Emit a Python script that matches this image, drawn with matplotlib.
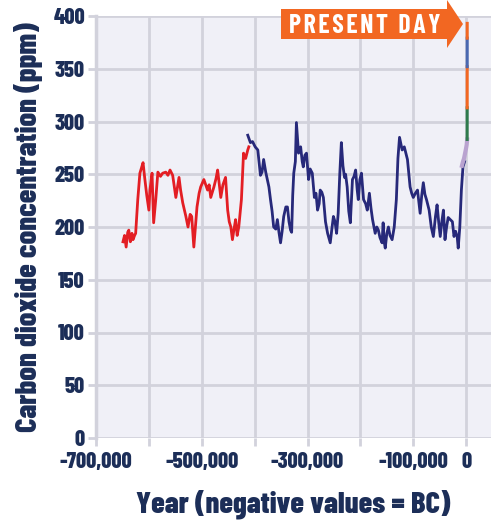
import numpy as np
import matplotlib
matplotlib.use("Agg")
import matplotlib.pyplot as plt
from matplotlib.patches import Polygon

# EPICA Dome C (red), years in thousands (negative = BC), CO2 in ppm
dome_kyr = [-649, -646, -643, -640, -638, -635, -632, -630, -627, -625, -621, -617, -614,
            -611, -608, -604, -600, -598, -594, -591, -587, -583, -578, -574, -568,
            -564, -560, -555, -549, -543, -540, -536, -530, -526, -522, -519, -515,
            -509, -505, -502, -496, -489, -486, -483, -477, -473, -470, -464, -460,
            -455, -451, -448, -445, -442, -439, -436, -433, -430, -425, -421, -417,
            -413, -411]
dome_ppm = [186, 192, 181, 195, 197, 186, 194, 188, 192, 194, 226, 251, 256,
            261, 247, 230, 216, 235, 251, 204, 226, 252, 248, 251, 252,
            249, 254, 249, 228, 247, 235, 223, 210, 200, 212, 210, 181,
            219, 232, 238, 245, 235, 240, 228, 238, 246, 254, 228, 240,
            247, 216, 205, 200, 188, 198, 207, 192, 200, 226, 270, 265,
            273, 276]

# Vostok (dark blue)
vostok_kyr = [-413, -408, -404, -399, -394, -389, -386, -383, -379, -376, -373, -370,
              -367, -364, -360, -357, -354, -351, -348, -345, -341, -338, -335, -332,
              -330, -328, -326, -323, -321, -319, -317, -313, -310, -308, -305, -302,
              -298, -295, -291, -287, -284, -281, -278, -276, -273, -270, -266, -262,
              -257, -254, -251, -248, -245, -242, -239, -236, -233, -230, -228, -225,
              -222, -219, -215, -212, -209, -206, -204, -201, -198, -194, -190, -187,
              -183, -180, -177, -172, -169, -166, -163, -159, -157, -155, -153, -150,
              -147, -144, -140, -136, -132, -129, -126, -123, -121, -117, -114, -111,
              -106, -103, -100, -96, -92, -89, -87, -84, -81, -78, -75, -70, -66, -62,
              -58, -55, -52, -49, -46, -43, -40, -37, -34, -30, -26, -23, -20, -17,
              -15, -12, -9, -6, -3]
vostok_ppm = [287, 280, 281, 276, 273, 249, 252, 264, 252, 245, 238, 226,
              215, 200, 198, 207, 195, 185, 196, 210, 219, 219, 205, 197,
              195, 230, 251, 262, 299, 285, 270, 276, 262, 257, 268, 270,
              245, 255, 251, 228, 232, 216, 222, 235, 233, 228, 205, 194,
              185, 198, 210, 205, 194, 213, 250, 280, 258, 247, 250, 238,
              215, 204, 245, 248, 254, 235, 226, 245, 251, 226, 222, 216,
              232, 218, 207, 194, 200, 197, 190, 185, 204, 186, 180, 194,
              200, 192, 188, 200, 226, 265, 285, 278, 273, 276, 270, 264,
              238, 232, 228, 232, 235, 222, 213, 230, 242, 231, 226, 216, 200, 191,
              210, 221, 205, 191, 205, 216, 188, 200, 209, 207, 205, 191, 196, 191,
              180, 200, 235, 257, 262]

# Law Dome / Holocene (lavender)
law_kyr = [-8, -6, -4, -2, 0, 1, 1.9]
law_ppm = [258, 262, 265, 270, 275, 278, 283]

# Modern records at the right edge
siple_yr = [1900, 1958]
siple_ppm = [283, 313]
mlo1_yr = [1958, 1990]
mlo1_ppm = [313, 352]
mlo2_yr = [1990, 2005]
mlo2_ppm = [352, 379]
mlo3_yr = [2005, 2013]
mlo3_ppm = [379, 393]

x_ticks = np.arange(-700000, 1, 100000)
x_labels = ["-700,000", "", "-500,000", "", "-300,000", "", "-100,000", "0"]
y_ticks = np.arange(0, 401, 50)

navy = "#1c2e58"
grid_c = "#d2d2dc"
fam = ["Barlow Condensed", "DejaVu Sans"]

W, H = 491, 525
fig = plt.figure(figsize=(W / 100, H / 100), dpi=100)
ax = fig.add_axes([96 / W, (H - 438) / H, (W - 96) / W, 422 / H])
ax.set_facecolor("#f0f0f7")

ax.plot(np.array(dome_kyr) * 1000, dome_ppm, color="#e31e24", lw=2, zorder=3)
ax.plot(np.array(vostok_kyr) * 1000, vostok_ppm, color="#27297a", lw=2, zorder=3)
ax.plot(np.array(law_kyr) * 1000, law_ppm, color="#b9a3d0", lw=3, zorder=4)
ax.plot(siple_yr, siple_ppm, color="#2e7a4c", lw=2.2, zorder=5)
ax.plot(mlo1_yr, mlo1_ppm, color="#f26722", lw=2.2, zorder=5)
ax.plot(mlo2_yr, mlo2_ppm, color="#4a68b0", lw=2.2, zorder=5)
ax.plot(mlo3_yr, mlo3_ppm, color="#f26722", lw=2.2, zorder=5)

ax.set_xlim(-700000, 47000)
ax.set_ylim(0, 400)
ax.set_xticks(x_ticks)
ax.set_xticklabels(x_labels)
ax.set_yticks(y_ticks)
ax.grid(True, color=grid_c, lw=2, zorder=0)
ax.set_axisbelow(True)
for s in ["top", "right", "bottom"]:
    ax.spines[s].set_visible(False)
ax.spines["left"].set_color(grid_c)
ax.spines["left"].set_linewidth(2.5)
ax.tick_params(axis="both", color=grid_c, width=2, length=6, labelcolor=navy)
ax.tick_params(axis="x", pad=4)
ax.tick_params(axis="y", pad=2)
for lab in ax.get_xticklabels() + ax.get_yticklabels():
    lab.set_family(fam)
    lab.set_fontweight(800)
    lab.set_fontsize(16)

ax.set_xlabel("Year (negative values = BC)", family=fam, fontweight=800,
              fontsize=22, color=navy)
ax.set_ylabel("Carbon dioxide concentration (ppm)", family=fam, fontweight=800,
              fontsize=22, color=navy)
ax.xaxis.set_label_coords((293 - 96) / (W - 96), -(504 - 438) / 422)
ax.yaxis.set_label_coords(-(96 - 29) / (W - 96), (438 - 227) / 422)
ax.xaxis.label.set_va("center")
ax.yaxis.label.set_va("center")

# "PRESENT DAY" arrow
pts = [(281, 9), (447, 9), (447, 0), (463, 24), (447, 48), (447, 39), (281, 39)]
arrow = Polygon([(x / W, 1 - y / H) for x, y in pts], closed=True,
                transform=fig.transFigure, facecolor="#f26722", edgecolor="none",
                zorder=10)
fig.patches.append(arrow)
fig.text(365 / W, 1 - 26 / H, "\u200a".join("PRESENT DAY"), family=fam, fontweight="bold",
         fontsize=18.5, color="white", ha="center", va="center", zorder=11)

fig.savefig("out.png", dpi=100)
